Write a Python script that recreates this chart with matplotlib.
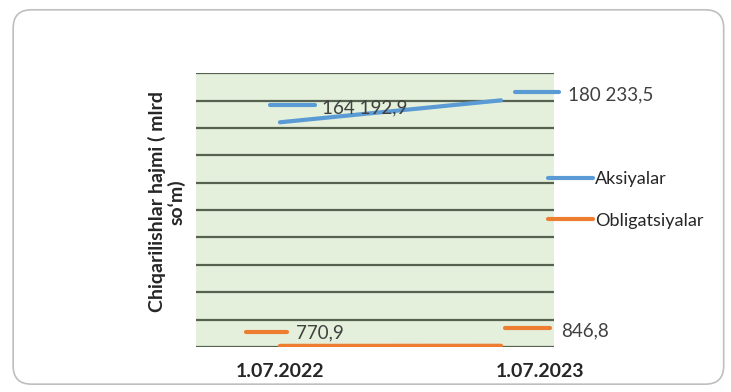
import matplotlib
matplotlib.use("Agg")
import matplotlib.pyplot as plt
from matplotlib.lines import Line2D
from matplotlib.patches import FancyBboxPatch
from matplotlib.transforms import IdentityTransform, ScaledTranslation

# ---------------------------------------------------------------------------
# data
# ---------------------------------------------------------------------------
dates = ['1.07.2022', '1.07.2023']
aksiyalar = [164192.9, 180233.5]
obligatsiyalar = [770.9, 846.8]
series_names = ['Aksiyalar', 'Obligatsiyalar']
y_label = 'Chiqarilishlar hajmi ( mlrd\nso‘m)'

BLUE = '#5B9BD5'
ORANGE = '#ED7D31'
BG = '#E4F0DB'
GRID = '#55624F'

plt.rcParams['font.family'] = ['Lato', 'DejaVu Sans']


def fmt(v):
    return f"{v:,.1f}".replace(',', ' ').replace('.', ',')


fig = plt.figure(figsize=(7.31, 3.92), dpi=100)
fig.patch.set_facecolor('white')

# rounded outer frame (kept behind everything)
frame = FancyBboxPatch((0.018, 0.02), 0.972, 0.955, transform=fig.transFigure,
                       boxstyle='round,pad=0,rounding_size=0.025',
                       facecolor='white', edgecolor='#BFBFBF', linewidth=1.2,
                       mutation_aspect=731 / 392, zorder=-10)
fig.add_artist(frame)

ax = fig.add_axes([0.268, 0.115, 0.49, 0.698])
ax.set_facecolor(BG)

x = list(range(len(dates)))
ax.plot(x, aksiyalar, color=BLUE, linewidth=3, solid_capstyle='round',
        label=series_names[0], zorder=3)
ax.plot(x, obligatsiyalar, color=ORANGE, linewidth=3, solid_capstyle='round',
        label=series_names[1], zorder=3)

ax.set_xlim(-0.38, 1.24)
ax.set_ylim(0, 200000)
ax.set_yticks(range(0, 200001, 20000))
ax.yaxis.grid(True, color=GRID, linewidth=1.6)
ax.set_axisbelow(True)
ax.tick_params(axis='y', left=False, labelleft=False)
ax.tick_params(axis='x', bottom=False, pad=8)
for s in ax.spines.values():
    s.set_visible(False)

ax.set_xticks(x)
ax.set_xticklabels(dates, fontsize=14, fontweight='bold', color='#262626')
# second category label sits a bit to the right in the original
lab = ax.get_xticklabels()[1]
lab.set_transform(lab.get_transform() + ScaledTranslation(0.39, 0, fig.dpi_scale_trans))

fig.text(0.228, 0.485, y_label, rotation=90, ha='center', va='center',
         fontsize=14, fontweight='bold', color='#262626', linespacing=1.1)

# data labels with their little legend keys (Excel style)
# (dx key start, dx key end, dy key, dx text, dy text) in pixels from the point
offsets = {
    (0, 0): (-10, 35, 17, 42, 14),
    (0, 1): (14, 58, 8, 67, 5),
    (1, 0): (-34, 7, 14, 16, 13),
    (1, 1): (4, 49, 18, 60, 15),
}
fig.canvas.draw()
for si, (vals, col) in enumerate([(aksiyalar, BLUE), (obligatsiyalar, ORANGE)]):
    for pi, v in enumerate(vals):
        px, py = ax.transData.transform((x[pi], v))
        k0, k1, kdy, tdx, tdy = offsets[(si, pi)]
        fig.add_artist(Line2D([px + k0, px + k1], [py + kdy, py + kdy],
                              transform=IdentityTransform(), color=col,
                              linewidth=3, solid_capstyle='round', zorder=5))
        fig.text(px + tdx, py + tdy, fmt(v), transform=IdentityTransform(),
                 ha='left', va='center', fontsize=13.5, color='#404040', zorder=6)

leg = ax.legend(loc='center left', bbox_to_anchor=(0.75, 0.49),
                bbox_transform=fig.transFigure, frameon=False, fontsize=13,
                handlelength=2.5, handletextpad=0.1, labelspacing=1.4,
                borderpad=0, borderaxespad=0)
for t in leg.get_texts():
    t.set_color('#262626')

fig.savefig('out.png', dpi=100)
